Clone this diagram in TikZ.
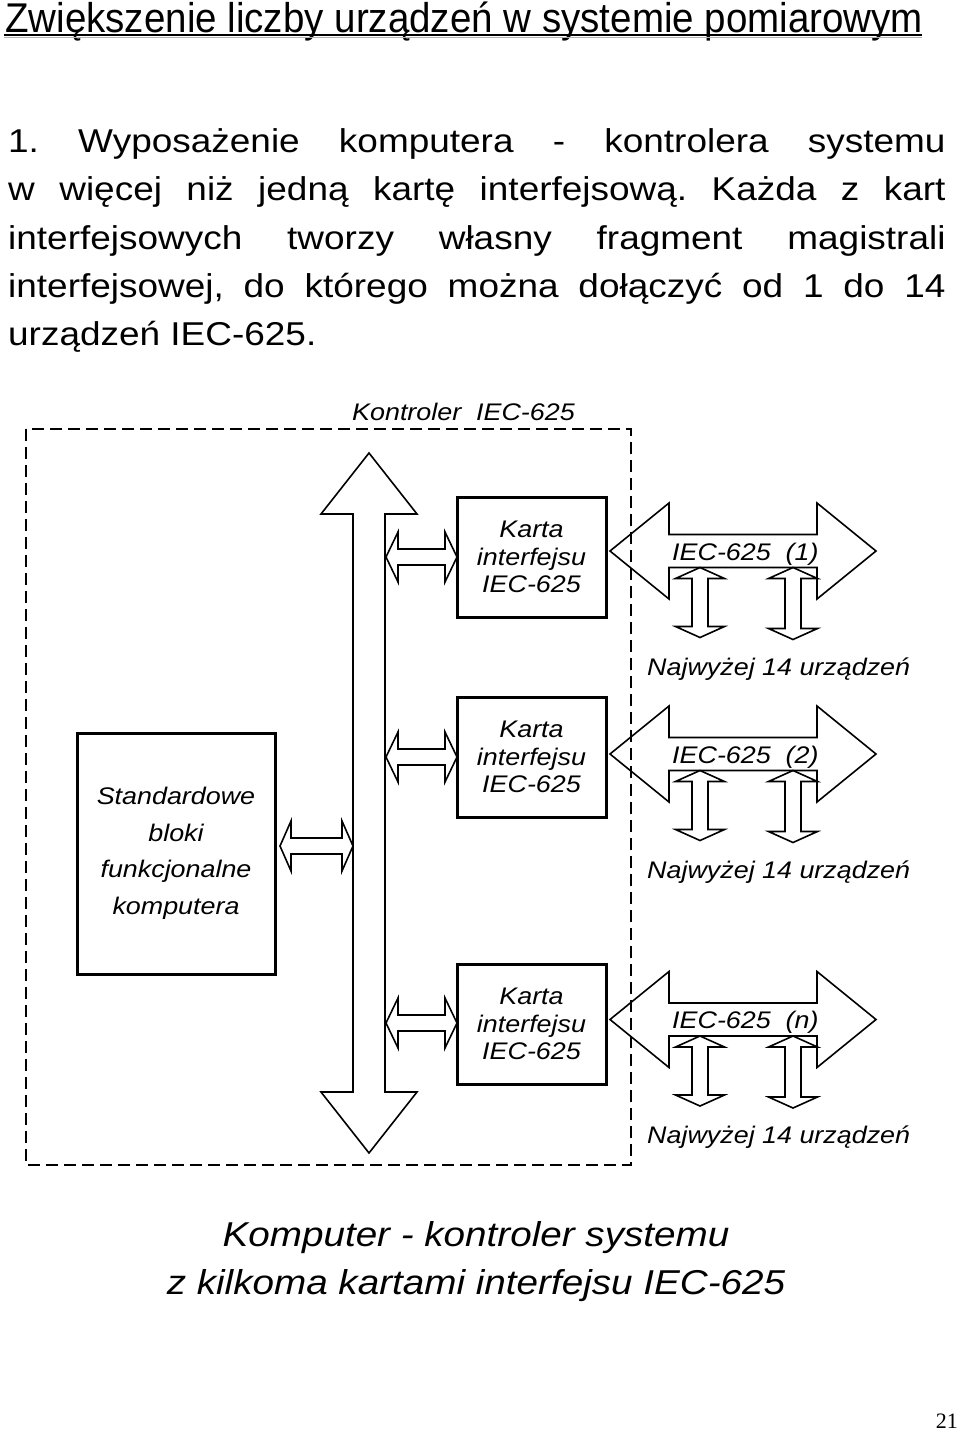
\documentclass[tikz,border=0pt]{standalone}
\usepackage{fontspec}
\setmainfont{Liberation Sans}
\newfontfamily\timesfont{Liberation Serif}
\usepackage{graphicx}
\frenchspacing
\newcommand{\sx}[1]{\scalebox{1.12}[1]{#1}}
% horizontal double block arrow: x1, x2, yc, shaft half, head half, head length
\newcommand{\harr}[6]{%
  \draw[blk] (#1,#3) -- ({#1+#6},{#3-#5}) -- ({#1+#6},{#3-#4}) -- ({#2-#6},{#3-#4})
    -- ({#2-#6},{#3-#5}) -- (#2,#3) -- ({#2-#6},{#3+#5}) -- ({#2-#6},{#3+#4})
    -- ({#1+#6},{#3+#4}) -- ({#1+#6},{#3+#5}) -- cycle;}
% vertical double block arrow: xc, y1, y2, shaft half, head half, head length
\newcommand{\varr}[6]{%
  \draw[blk] (#1,#2) -- ({#1+#5},{#2+#6}) -- ({#1+#4},{#2+#6}) -- ({#1+#4},{#3-#6})
    -- ({#1+#5},{#3-#6}) -- (#1,#3) -- ({#1-#5},{#3-#6}) -- ({#1-#4},{#3-#6})
    -- ({#1-#4},{#2+#6}) -- ({#1-#5},{#2+#6}) -- cycle;}
\tikzset{
  blk/.style={draw=black, line width=1.6pt, line join=miter},
  card/.style={draw, line width=3pt, minimum width=149pt, minimum height=120pt,
    inner sep=0pt, align=center, font=\itshape\fontsize{24}{27.5}\selectfont},
  compbox/.style={draw, line width=3pt, minimum width=198pt, minimum height=241pt,
    inner sep=0pt, align=center, font=\itshape\fontsize{24}{36.5}\selectfont},
  dlabel/.style={inner sep=0pt, anchor=base west, font=\itshape\fontsize{24}{28}\selectfont},
  para/.style={inner sep=0pt, anchor=base west, font=\fontsize{33}{40}\selectfont},
  capt/.style={inner sep=0pt, anchor=base, font=\itshape\fontsize{34.5}{40}\selectfont},
  frame/.style={draw, line width=2pt, dash pattern=on 12pt off 6pt},
}
\begin{document}
\begin{tikzpicture}[x=1pt,y=-1pt]
\useasboundingbox (0,0) rectangle (960,1438);
% title
\node[inner sep=0pt, anchor=base west, font=\fontsize{38.5}{42}\selectfont] (title) at (5,32)
  {\scalebox{1}[1.08]{Zwiększenie liczby urządzeń w systemie pomiarowym}};
\draw[gray!60, line width=1.5pt] (4,37.5) -- (922,37.5);
\draw[line width=2.5pt] (4,35) -- (922,35);
% paragraph
\node[para] (p1) at (8,152) {\sx{\makebox[837pt][s]{1. Wyposażenie komputera - kontrolera systemu}}};
\node[para] (p2) at (8,200) {\sx{\makebox[837pt][s]{w więcej niż jedną kartę interfejsową. Każda z kart}}};
\node[para] (p3) at (8,249) {\sx{\makebox[837pt][s]{interfejsowych tworzy własny fragment magistrali}}};
\node[para] (p4) at (8,297) {\sx{\makebox[837pt][s]{interfejsowej, do którego można dołączyć od 1 do 14}}};
\node[para] (p5) at (8,345) {\sx{urządzeń IEC-625.}};
% controller frame
\node[dlabel] (klabel) at (352,420) {\sx{Kontroler\ \ IEC-625}};
% bus
\varr{369}{453}{1153}{16}{48}{61}
% computer block
\node[compbox] (comp) at (176,853.5) {\sx{Standardowe}\\\sx{bloki}\\\sx{funkcjonalne}\\\sx{komputera}};
\harr{280}{353}{846}{8}{25}{11}
% cards
\node[card] (c1) at (531.5,557) {\sx{Karta}\\\sx{interfejsu}\\\sx{IEC-625}};
\node[card] (c2) at (531.5,757) {\sx{Karta}\\\sx{interfejsu}\\\sx{IEC-625}};
\node[card] (c3) at (531.5,1024) {\sx{Karta}\\\sx{interfejsu}\\\sx{IEC-625}};
\harr{386}{457}{557}{8}{25}{12}
\harr{386}{457}{757}{8}{25}{12}
\harr{386}{457}{1023}{8}{25}{12}
% IEC-625 buses
\foreach \yc/\lab in {551/1, 754/2, 1019.5/n}{
  \harr{610}{876}{\yc}{16.5}{48}{59}
  \varr{700}{\yc+16.5}{\yc+86.5}{8}{24.5}{11}
  \varr{793}{\yc+16.5}{\yc+88.5}{8}{24.5}{11}
  \node[dlabel] at (672,\yc+9) {\sx{IEC-625\ \ (\lab)}};
  \node[dlabel] at (647,\yc+124) {\sx{Najwyżej 14 urządzeń}};
}
% dashed frame
\draw[frame] (26,429) rectangle (631,1165);
% caption
\node[capt] (cap1) at (476,1246) {\sx{Komputer - kontroler systemu}};
\node[capt] (cap2) at (476,1294) {\sx{z kilkoma kartami interfejsu IEC-625}};
% page number
\node[inner sep=0pt, anchor=base east, font=\timesfont\fontsize{22}{24}\selectfont] (pg) at (958,1428) {21};
\end{tikzpicture}
\end{document}
